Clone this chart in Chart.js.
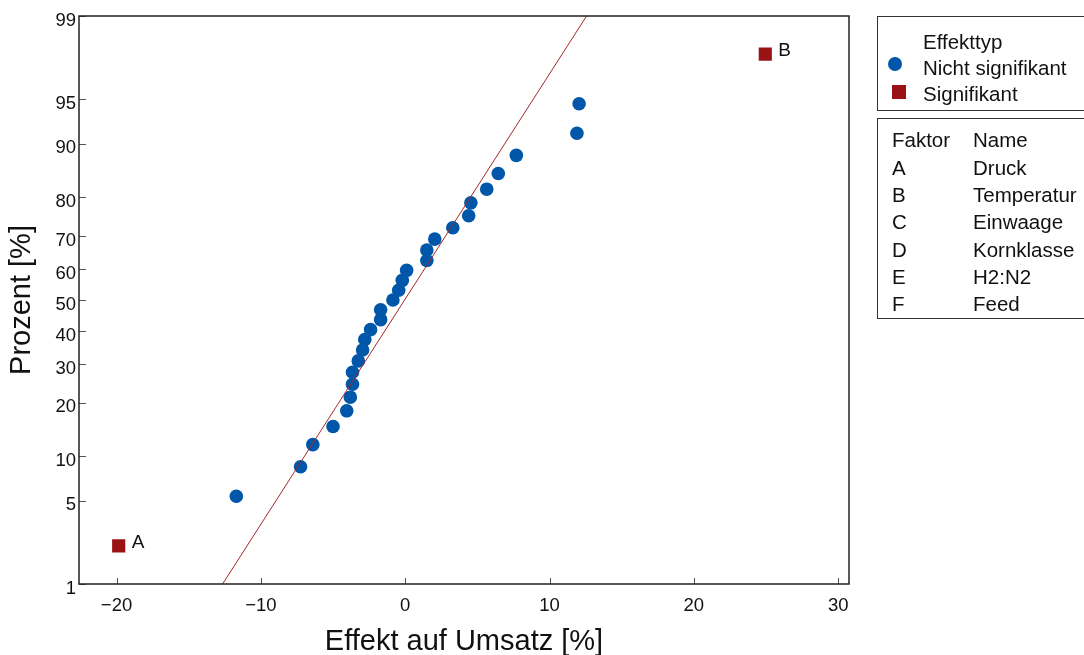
<!DOCTYPE html>
<html>
<head>
<meta charset="utf-8">
<script src="https://cdn.jsdelivr.net/npm/chart.js@4"></script>
<style>
  body { margin: 0; background: #fff; font-family: "Liberation Sans", Arial, sans-serif; }
  #wrap { position: relative; width: 1084px; height: 655px; overflow: hidden; }
  .box { position: absolute; left: 877px; width: 220px; border: 1px solid #333; box-sizing: border-box; font-size: 20.5px; color: #111; }
  .row { position: absolute; white-space: nowrap; line-height: 22px; }
  .dot { position: absolute; width: 14px; height: 14px; border-radius: 50%; background: #0056a8; }
  .sq { position: absolute; width: 13.5px; height: 13.5px; background: #9b1214; }
</style>
</head>
<body>
<div id="wrap">
  <canvas id="myChart"></canvas>
  <div class="box" style="top:16px;height:95px;">
    <div class="row" style="left:45px;top:14px;">Effekttyp</div>
    <div class="dot" style="left:10px;top:40px;"></div>
    <div class="row" style="left:45px;top:40px;">Nicht signifikant</div>
    <div class="sq" style="left:14px;top:68px;"></div>
    <div class="row" style="left:45px;top:66px;">Signifikant</div>
  </div>
  <div class="box" style="top:118px;height:201px;" id="factorBox"></div>
</div>
<script>
// Faktoren
const factorCodes = ["A", "B", "C", "D", "E", "F"];
const factorNames = ["Druck", "Temperatur", "Einwaage", "Kornklasse", "H2:N2", "Feed"];

// nicht signifikante Effekte
const effectX = [-11.7, -7.25, -6.4, -5.0, -4.05, -3.8, -3.65, -3.65, -3.25, -2.95, -2.8, -2.4, -1.7, -1.7,
  -0.85, -0.45, -0.2, 0.1, 1.5, 1.5, 2.05, 3.3, 4.4, 4.55, 5.65, 6.45, 7.7, 11.9, 12.05];
const effectP = [5.4, 8.6, 11.8, 15.0, 18.2, 21.3, 24.5, 27.7, 30.9, 34.1, 37.3, 40.4, 43.6, 46.8,
  50.0, 53.2, 56.4, 59.6, 62.7, 65.9, 69.1, 72.3, 75.5, 78.7, 81.8, 85.0, 88.2, 91.4, 94.6];

// signifikante Effekte
const sigLabels = ["A", "B"];
const sigX = [-19.85, 24.95];
const sigP = [2.2, 97.8];

// Referenzlinie
const fitX = [-12.65, 12.57];
const fitP = [1, 99];

const yTicks = [1, 5, 10, 20, 30, 40, 50, 60, 70, 80, 90, 95, 99];
const xTicks = [-20, -10, 0, 10, 20, 30];

// factor table
const fb = document.getElementById("factorBox");
let html = '<div class="row" style="left:14px;top:10px;">Faktor</div><div class="row" style="left:95px;top:10px;">Name</div>';
factorCodes.forEach((c, i) => {
  const top = 38 + i * 27.2;
  html += '<div class="row" style="left:14px;top:' + top + 'px;">' + c + '</div>';
  html += '<div class="row" style="left:95px;top:' + top + 'px;">' + factorNames[i] + '</div>';
});
fb.innerHTML = html;

// inverse normal cdf (Acklam)
function probit(p) {
  const a = [-39.69683028665376, 220.9460984245205, -275.9285104469687, 138.357751867269, -30.66479806614716, 2.506628277459239];
  const b = [-54.47609879822406, 161.5858368580409, -155.6989798598866, 66.80131188771972, -13.28068155288572];
  const c = [-0.007784894002430293, -0.3223964580411365, -2.400758277161838, -2.549732539343734, 4.374664141464968, 2.938163982698783];
  const d = [0.007784695709041462, 0.3224671290700398, 2.445134137142996, 3.754408661907416];
  const pl = 0.02425;
  let q, r;
  if (p < pl) {
    q = Math.sqrt(-2 * Math.log(p));
    return (((((c[0] * q + c[1]) * q + c[2]) * q + c[3]) * q + c[4]) * q + c[5]) / ((((d[0] * q + d[1]) * q + d[2]) * q + d[3]) * q + 1);
  }
  if (p <= 1 - pl) {
    q = p - 0.5; r = q * q;
    return (((((a[0] * r + a[1]) * r + a[2]) * r + a[3]) * r + a[4]) * r + a[5]) * q / (((((b[0] * r + b[1]) * r + b[2]) * r + b[3]) * r + b[4]) * r + 1);
  }
  q = Math.sqrt(-2 * Math.log(1 - p));
  return -(((((c[0] * q + c[1]) * q + c[2]) * q + c[3]) * q + c[4]) * q + c[5]) / ((((d[0] * q + d[1]) * q + d[2]) * q + d[3]) * q + 1);
}

// Wahrscheinlichkeitsnetz als eigene Skala
class ProbitScale extends Chart.LinearScale {
  determineDataLimits() {
    this.min = yTicks[0];
    this.max = yTicks[yTicks.length - 1];
  }
  buildTicks() {
    return yTicks.map(v => ({ value: v }));
  }
  configure() {
    super.configure();
    this._zStart = probit(this.min / 100);
    this._zRange = probit(this.max / 100) - this._zStart;
  }
  getPixelForValue(v) {
    return this.getPixelForDecimal((probit(v / 100) - this._zStart) / this._zRange);
  }
  getValueForPixel(px) {
    const z = this._zStart + this.getDecimalForPixel(px) * this._zRange;
    let lo = 0.0001, hi = 0.9999;
    for (let i = 0; i < 40; i++) {
      const m = (lo + hi) / 2;
      if (probit(m) < z) lo = m; else hi = m;
    }
    return lo * 100;
  }
}
ProbitScale.id = "probit";
ProbitScale.defaults = {};
Chart.register(ProbitScale);

const frame = {
  id: "frame",
  afterDatasetsDraw(chart) {
    const { ctx, chartArea: a, scales } = chart;
    ctx.save();
    ctx.strokeStyle = "#555";
    ctx.lineWidth = 1;
    ctx.beginPath();
    scales.y.ticks.forEach(t => {
      const y = Math.round(scales.y.getPixelForValue(t.value)) + 0.5;
      ctx.moveTo(a.left, y); ctx.lineTo(a.left + 7, y);
    });
    scales.x.ticks.forEach(t => {
      const x = Math.round(scales.x.getPixelForValue(t.value)) + 0.5;
      ctx.moveTo(x, a.bottom); ctx.lineTo(x, a.bottom - 6);
    });
    ctx.stroke();
    ctx.strokeStyle = "#222";
    ctx.lineWidth = 1.5;
    ctx.strokeRect(a.left, a.top, a.right - a.left, a.bottom - a.top);
    // Beschriftung der signifikanten Effekte
    ctx.fillStyle = "#111";
    ctx.font = "19px 'Liberation Sans', Arial, sans-serif";
    ctx.textBaseline = "middle";
    sigLabels.forEach((l, i) => {
      ctx.fillText(l, scales.x.getPixelForValue(sigX[i]) + 13, scales.y.getPixelForValue(sigP[i]) - 3);
    });
    ctx.restore();
  }
};

const ctx = document.getElementById("myChart");

new Chart(ctx, {
  type: "scatter",
  data: {
    datasets: [
      {
        label: "Referenz",
        type: "line",
        data: fitX.map((x, i) => ({ x: x, y: fitP[i] })),
        borderColor: "#a4282b",
        borderWidth: 1,
        pointRadius: 0,
        fill: false,
      },
      {
        label: "Nicht signifikant",
        data: effectX.map((x, i) => ({ x: x, y: effectP[i] })),
        backgroundColor: "#0056a8",
        borderWidth: 0,
        pointRadius: 6.8,
        pointHoverRadius: 6.8,
      },
      {
        label: "Signifikant",
        data: sigX.map((x, i) => ({ x: x, y: sigP[i] })),
        backgroundColor: "#9b1214",
        borderWidth: 0,
        pointStyle: "rect",
        pointRadius: 9.3,
        pointHoverRadius: 9.3,
      },
    ],
  },
  options: {
    responsive: true,
    maintainAspectRatio: false,
    animation: false,
    layout: { padding: { top: 16, right: 235, left: 0, bottom: 0 } },
    plugins: { legend: { display: false }, tooltip: { enabled: false } },
    scales: {
      x: {
        type: "linear",
        min: -22.6,
        max: 30.75,
        afterBuildTicks: s => { s.ticks = xTicks.map(v => ({ value: v })); },
        afterFit: s => { s.height = 71; },
        grid: { display: false, drawTicks: false },
        border: { display: false },
        ticks: { color: "#111", font: { family: "'Liberation Sans', Arial", size: 18.5 }, padding: 11, maxRotation: 0, callback: v => String(v).replace("-", "\u2212") },
        title: { display: true, text: "Effekt auf Umsatz [%]", color: "#111", font: { family: "'Liberation Sans', Arial", size: 29, lineHeight: 0.9 }, padding: { top: 0, bottom: 0 } },
      },
      y: {
        type: "probit",
        position: "left",
        afterFit: s => { s.width = 79; },
        grid: { display: false, drawTicks: false },
        border: { display: false },
        ticks: { color: "#111", font: { family: "'Liberation Sans', Arial", size: 18.5 }, padding: 3, labelOffset: 4.5, autoSkip: false, callback: v => String(v) },
        title: { display: true, text: "Prozent [%]", color: "#111", font: { family: "'Liberation Sans', Arial", size: 29 }, padding: { top: 5, bottom: 0 } },
      },
    },
  },
  plugins: [frame],
});
</script>
</body>
</html>
